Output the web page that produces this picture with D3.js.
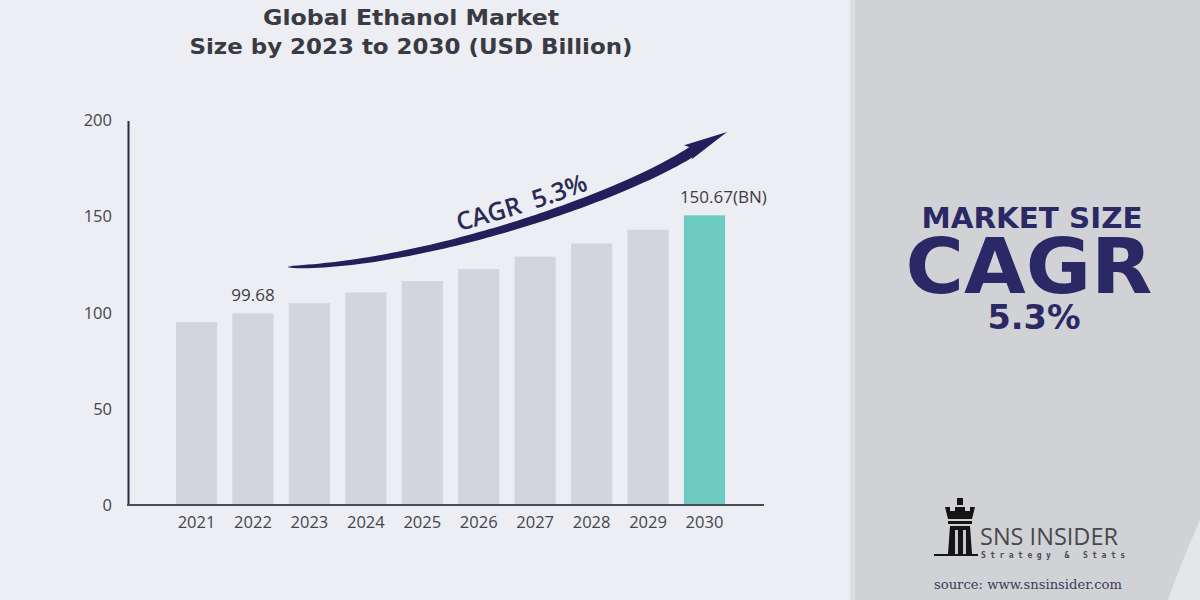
<!DOCTYPE html>
<html>
<head>
<meta charset="utf-8">
<script src="https://cdn.jsdelivr.net/npm/d3@7"></script>
<style>
  html, body { margin: 0; padding: 0; background: #eceef3; }
  svg { display: block; }
</style>
</head>
<body>
<svg id="chart" width="1200" height="600"></svg>
<script>
// ---- data ----
const years = ["2021","2022","2023","2024","2025","2026","2027","2028","2029","2030"];
const values = [95.1, 99.68, 105.0, 110.6, 116.5, 122.7, 129.2, 136.0, 143.2, 150.67];
const yTicks = [0, 50, 100, 150, 200];
const valueLabels = [{year: "2022", text: "99.68"}, {year: "2030", text: "150.67(BN)"}];
const titleLines = ["Global Ethanol Market", "Size by 2023 to 2030 (USD Billion)"];
const cagrText = "CAGR  5.3%";
const sidePanel = ["MARKET SIZE", "CAGR", "5.3%"];

(function () {
const svg = d3.select("#chart");
const W = 1200, H = 600;
const navy = "#2b2866";
const arrowCol = "#231f5a";

// backgrounds
svg.append("rect").attr("x", 0).attr("y", 0).attr("width", W).attr("height", H).attr("fill", "#eceef3");
svg.append("rect").attr("x", 850).attr("y", 0).attr("width", 350).attr("height", H).attr("fill", "#d1d2d5");
svg.append("rect").attr("x", 850).attr("y", 0).attr("width", 5).attr("height", H).attr("fill", "#dcdee2");
svg.append("path")
  .attr("d", "M1200,520 Q1180,565 1168,600 L1200,600 Z")
  .attr("fill", "#e4e6ea");

// title
svg.append("g").selectAll("text").data(titleLines).join("text")
  .attr("x", 411).attr("y", (d, i) => 25 + i * 29)
  .attr("text-anchor", "middle")
  .attr("font-family", "'DejaVu Sans', sans-serif")
  .attr("font-weight", 700)
  .attr("font-size", 21)
  .attr("textLength", (d, i) => i === 0 ? 296 : 443)
  .attr("lengthAdjust", "spacingAndGlyphs")
  .attr("fill", "#3a3a42")
  .text(d => d);

// scales
const y = d3.scaleLinear().domain([0, 200]).range([505, 120.5]);
const x = d3.scaleBand().domain(years).range([168.3, 732.7]).paddingInner(0.27).paddingOuter(0.135);

// bars
svg.append("g").selectAll("rect").data(years).join("rect")
  .attr("x", d => x(d))
  .attr("y", (d, i) => y(values[i]))
  .attr("width", x.bandwidth())
  .attr("height", (d, i) => y(0) - y(values[i]))
  .attr("fill", (d, i) => i === years.length - 1 ? "#6dcbc1" : "#d2d6dc");

// y axis
const yAxis = svg.append("g").attr("transform", "translate(128,0)")
  .call(d3.axisLeft(y).tickValues(yTicks).tickSize(0).tickPadding(16).tickFormat(d3.format("d")));
yAxis.select(".domain").attr("stroke", "#2a2a48").attr("stroke-width", 2);
yAxis.selectAll("text")
  .attr("font-family", "'Open Sans', sans-serif")
  .attr("font-size", 16.5).attr("fill", "#45454d");

// x axis
const xAxis = svg.append("g").attr("transform", "translate(0,505)")
  .call(d3.axisBottom(x).tickSize(0).tickPadding(11));
xAxis.select(".domain").remove();
xAxis.selectAll("text")
  .attr("font-family", "'Open Sans', sans-serif")
  .attr("font-size", 16.5).attr("fill", "#45454d");
svg.append("line").attr("x1", 127).attr("x2", 764).attr("y1", y(0)).attr("y2", y(0))
  .attr("stroke", "#4a4a58").attr("stroke-width", 2);

// value labels
svg.append("g").selectAll("text").data(valueLabels).join("text")
  .attr("x", d => d.year === "2030" ? x(d.year) - 4 : x(d.year) + x.bandwidth() / 2)
  .attr("y", d => y(values[years.indexOf(d.year)]) - 12)
  .attr("text-anchor", d => d.year === "2030" ? "start" : "middle")
  .attr("font-family", "'Open Sans', sans-serif")
  .attr("font-size", 17).attr("fill", "#3d3d45")
  .text(d => d.text);

// growth arrow (tapered swoosh along a cubic curve)
const P0 = [288, 267], C1 = [420, 266], C2 = [622, 198], P3 = [696, 149];
function bez(t) {
  const u = 1 - t;
  const a = u * u * u, b = 3 * u * u * t, c = 3 * u * t * t, d = t * t * t;
  return [a * P0[0] + b * C1[0] + c * C2[0] + d * P3[0], a * P0[1] + b * C1[1] + c * C2[1] + d * P3[1]];
}
function tangent(t) {
  const u = 1 - t;
  const dx = 3 * u * u * (C1[0] - P0[0]) + 6 * u * t * (C2[0] - C1[0]) + 3 * t * t * (P3[0] - C2[0]);
  const dy = 3 * u * u * (C1[1] - P0[1]) + 6 * u * t * (C2[1] - C1[1]) + 3 * t * t * (P3[1] - C2[1]);
  const l = Math.hypot(dx, dy);
  return [dx / l, dy / l];
}
const upper = [], lower = [], textLine = [];
const N = 80;
for (let i = 0; i <= N; i++) {
  const t = i / N;
  const p = bez(t), tg = tangent(t);
  const nx = tg[1], ny = -tg[0]; // normal pointing up-left
  const w = 0.3 + 4.9 * Math.pow(t, 0.4);
  upper.push([p[0] + nx * w, p[1] + ny * w]);
  lower.push([p[0] - nx * w, p[1] - ny * w]);
  textLine.push([p[0] + nx * 10, p[1] + ny * 10]);
}
const pts = upper.concat(lower.slice().reverse());
svg.append("path").attr("d", d3.line()(pts) + "Z").attr("fill", arrowCol);

// arrowhead
const tip = [727, 132];
const dv = [tip[0] - P3[0], tip[1] - P3[1]];
const dl = Math.hypot(dv[0], dv[1]);
const dd = [dv[0] / dl, dv[1] / dl], nn = [dd[1], -dd[0]];
const back = [tip[0] - dd[0] * 44, tip[1] - dd[1] * 44];
const notch = [tip[0] - dd[0] * 36, tip[1] - dd[1] * 36];
const head = [
  tip,
  [back[0] + nn[0] * 9, back[1] + nn[1] * 9],
  notch,
  [back[0] - nn[0] * 7, back[1] - nn[1] * 7]
];
svg.append("path").attr("d", d3.line()(head) + "Z").attr("fill", arrowCol);

// CAGR label following the arrow
const tl = d3.line()(textLine);
svg.append("path").attr("id", "cagrPath").attr("d", tl).attr("fill", "none").attr("stroke", "none");
let acc = 0, startLen = 0;
for (let i = 1; i < textLine.length; i++) {
  acc += Math.hypot(textLine[i][0] - textLine[i - 1][0], textLine[i][1] - textLine[i - 1][1]);
  if (textLine[i][0] <= 459) startLen = acc;
}
svg.append("text")
  .attr("font-family", "'Open Sans', sans-serif")
  .attr("font-weight", 600)
  .attr("font-size", 25)
  .attr("fill", "#2a2a56")
  .style("white-space", "pre")
  .append("textPath")
  .attr("href", "#cagrPath")
  .attr("startOffset", startLen)
  .text(cagrText);

// side panel text
const side = svg.append("g").attr("font-family", "'DejaVu Sans', sans-serif").attr("font-weight", 700).attr("fill", navy).attr("text-anchor", "middle");
side.append("text").attr("x", 1032).attr("y", 228).attr("font-size", 28).attr("textLength", 221).attr("lengthAdjust", "spacingAndGlyphs").text(sidePanel[0]);
side.append("text").attr("x", 1029).attr("y", 293).attr("font-size", 76).attr("textLength", 247).attr("lengthAdjust", "spacingAndGlyphs").text(sidePanel[1]);
side.append("text").attr("x", 1034).attr("y", 329).attr("font-size", 34).attr("textLength", 93).attr("lengthAdjust", "spacingAndGlyphs").text(sidePanel[2]);

// logo icon (rook silhouette)
const logo = svg.append("g").attr("fill", "#151515");
logo.append("rect").attr("x", 957).attr("y", 498).attr("width", 6).attr("height", 7);
logo.append("path").attr("d", "M945,507 L950,507 L950,511 L955,511 L955,507 L965,507 L965,511 L970,511 L970,507 L975,507 L972,519 L948,519 Z");
logo.append("rect").attr("x", 948).attr("y", 521).attr("width", 24).attr("height", 3);
logo.append("path").attr("d", "M950,526 L970,526 L972,554 L948,554 Z");
logo.append("rect").attr("x", 955).attr("y", 530).attr("width", 3).attr("height", 24).attr("fill", "#c9cacd");
logo.append("rect").attr("x", 963).attr("y", 530).attr("width", 3).attr("height", 24).attr("fill", "#c9cacd");
logo.append("rect").attr("x", 934).attr("y", 554).attr("width", 44).attr("height", 2);

svg.append("text").attr("x", 980).attr("y", 545)
  .attr("font-family", "'Open Sans', sans-serif").attr("font-size", 23)
  .attr("textLength", 138).attr("lengthAdjust", "spacingAndGlyphs")
  .attr("fill", "#48484e").text("SNS INSIDER");
svg.append("text").attr("x", 981).attr("y", 558)
  .attr("font-family", "'DejaVu Sans Mono', monospace").attr("font-size", 8).attr("font-weight", 700)
  .attr("textLength", 144).attr("lengthAdjust", "spacing")
  .attr("fill", "#4a4a50").text("Strategy & Stats");
svg.append("text").attr("x", 1028).attr("y", 589)
  .attr("text-anchor", "middle")
  .attr("font-family", "'DejaVu Serif', 'Liberation Serif', serif").attr("font-size", 12)
  .attr("textLength", 188).attr("lengthAdjust", "spacingAndGlyphs")
  .attr("fill", "#3a3a5a").text("source: www.snsinsider.com");
})();
</script>
</body>
</html>
